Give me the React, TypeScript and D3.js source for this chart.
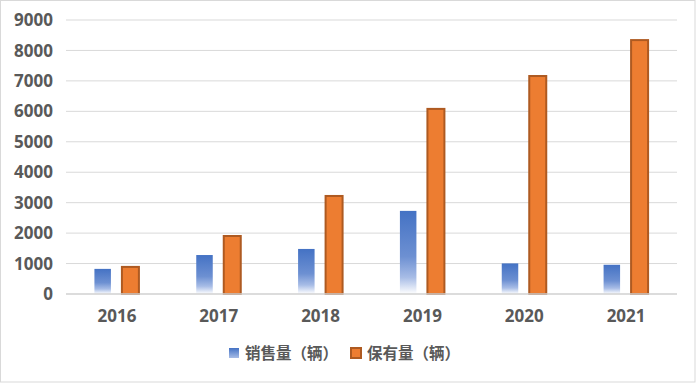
import React from "react";
import * as d3 from "d3";

const years = ["2016", "2017", "2018", "2019", "2020", "2021"];
const sales = [825, 1280, 1480, 2730, 1005, 960];
const stock = [890, 1905, 3220, 6080, 7160, 8340];
const yTicks = [0, 1000, 2000, 3000, 4000, 5000, 6000, 7000, 8000, 9000];
const seriesNames = ["销售量（辆）", "保有量（辆）"];

const W = 696;
const H = 383;

export default function App() {
  const x = d3.scaleBand<string>().domain(years).range([66, 677]);
  const y = d3.scaleLinear().domain([0, 9000]).range([294, 20]);
  const font = "'Open Sans', 'Noto Sans', sans-serif";
  const cjk = "'Noto Sans CJK SC', 'Noto Sans', sans-serif";
  const textColor = "#595959";
  const bw = 16.5;
  const ow = 17;
  return (
    <svg width={W} height={H} style={{ position: "absolute", left: 0, top: 0 }}>
      <defs>
        <linearGradient id="blueGrad" x1="0" y1="0" x2="0" y2="1">
          <stop offset="0" stopColor="#4472c4" />
          <stop offset="0.55" stopColor="#6d90d2" />
          <stop offset="0.8" stopColor="#a7bce6" />
          <stop offset="1" stopColor="#ffffff" />
        </linearGradient>
        <linearGradient id="blueLeg" x1="0" y1="0" x2="0" y2="1">
          <stop offset="0" stopColor="#4472c4" />
          <stop offset="1" stopColor="#a7bce6" />
        </linearGradient>
      </defs>
      <rect x={0.5} y={0.5} width={W - 1.5} height={H - 1.5} fill="#fff" stroke="#d9d9d9" strokeWidth={1} />
      {yTicks.map((t) => (
        <g key={t}>
          {t > 0 && (
            <line x1={66} x2={677} y1={y(t)} y2={y(t)} stroke="#d9d9d9" strokeWidth={1} />
          )}
          <text
            x={53}
            y={y(t)}
            dy="0.36em"
            textAnchor="end"
            fontFamily={font}
            fontWeight="bold"
            fontSize={17}
            fill={textColor}
          >
            {t}
          </text>
        </g>
      ))}
      {years.map((yr, i) => {
        const c = (x(yr) as number) + x.bandwidth() / 2;
        return (
          <g key={yr}>
            <rect
              x={c - 22.5}
              y={y(sales[i])}
              width={bw}
              height={y(0) - y(sales[i])}
              fill="url(#blueGrad)"
            />
            <rect
              x={c + 5}
              y={y(stock[i])}
              width={ow}
              height={y(0) - y(stock[i])}
              fill="#ed7d31"
              stroke="#ae5a21"
              strokeWidth={2}
            />
            <text
              x={c}
              y={322}
              textAnchor="middle"
              fontFamily={font}
              fontWeight="bold"
              fontSize={17}
              fill={textColor}
            >
              {yr}
            </text>
          </g>
        );
      })}
      <line x1={66} x2={677} y1={294} y2={294} stroke="#d0d0d0" strokeWidth={1.5} />
      <rect x={229} y={348} width={10} height={10} fill="url(#blueLeg)" />
      <text x={245} y={359} fontFamily={cjk} fontWeight="bold" fontSize={15.5} fill={textColor}>
        {seriesNames[0]}
      </text>
      <rect x={351} y={348} width={10} height={10} fill="#ed7d31" stroke="#ae5a21" strokeWidth={2} />
      <text x={367} y={359} fontFamily={cjk} fontWeight="bold" fontSize={15.5} fill={textColor}>
        {seriesNames[1]}
      </text>
    </svg>
  );
}
